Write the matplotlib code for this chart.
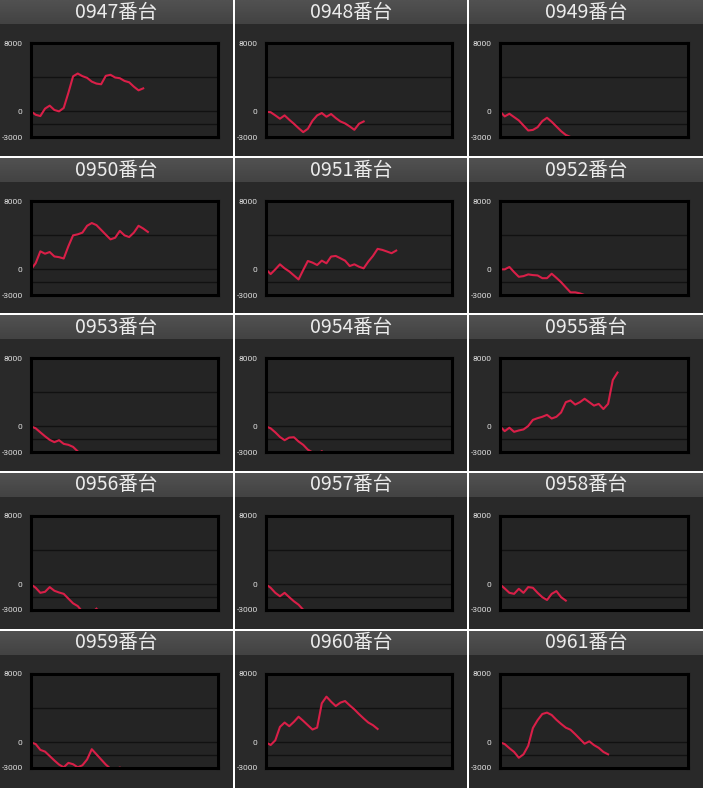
import numpy as np
import matplotlib
matplotlib.use("Agg")
import matplotlib.pyplot as plt
from matplotlib.colors import LinearSegmentedColormap

plt.rcParams['font.family'] = ['Noto Sans CJK JP', 'DejaVu Sans']

# 台番号
machines = ["0947", "0948", "0949", "0950", "0951", "0952", "0953", "0954",
            "0955", "0956", "0957", "0958", "0959", "0960", "0961"]

# 差枚推移 (等間隔のサンプル)
s0947 = [0, -400, -550, 320, 670, 160, 0, 400, 2180, 4100, 4430, 4120, 3920, 3480,
         3250, 3170, 4160, 4280, 3960, 3880, 3560, 3400, 2890, 2460, 2690]
s0948 = [-50, -100, -470, -860, -470, -980, -1450, -1960, -2430, -2040, -1100, -470,
         -200, -630, -310, -780, -1180, -1410, -1760, -2160, -1450, -1180]
s0949 = [0, -590, -280, -670, -1060, -1650, -2240, -2170, -1850, -1140, -750, -1220,
         -1770, -2320, -2760, -3000]
s0950 = [0, 720, 2110, 1830, 2030, 1510, 1430, 1270, 2710, 3980, 4100, 4300, 5100,
         5420, 5180, 4620, 4060, 3510, 3700, 4500, 3980, 3780, 4300, 5100, 4780, 4380]
s0951 = [0, -550, 0, 590, 120, -240, -710, -1180, -80, 980, 790, 510, 1020, 710, 1500,
         1570, 1300, 1020, 390, 590, 310, 120, 910, 1570, 2400, 2280, 2090, 1890, 2200]
s0952 = [0, 0, 280, -320, -870, -790, -590, -670, -710, -1030, -1030, -510, -990,
         -1500, -2100, -2690, -2690, -2810, -3010]
s0953 = [0, -230, -700, -1160, -1580, -1850, -1620, -2050, -2160, -2400, -2930]
s0954 = [0, -230, -700, -1240, -1620, -1310, -1270, -1770, -2160, -2730, -3050,
         -3400, -2900, -3400]
s0955 = [0, -560, -160, -640, -480, -360, 40, 760, 960, 1120, 1350, 920, 1120, 1630,
         2830, 3030, 2550, 2830, 3230, 2830, 2430, 2630, 2030, 2630, 5420, 6300]
s0956 = [0, -400, -990, -870, -320, -750, -950, -1110, -1670, -2220, -2540, -3200,
         -3600, -3300, -2850]
s0957 = [0, -400, -990, -1390, -990, -1500, -1980, -2380, -2970, -3100]
s0958 = [0, -480, -990, -1110, -520, -990, -320, -400, -990, -1500, -1830, -1110,
         -790, -1500, -1900]
s0959 = [0, -200, -880, -1080, -1600, -2120, -2600, -2920, -2400, -2560, -2920, -2680,
         -2000, -800, -1400, -2000, -2600, -3080, -3150, -2950, -3150]
s0960 = [0, -310, 240, 1810, 2320, 1890, 2400, 3000, 2520, 2010, 1500, 1730, 4570,
         5350, 4760, 4250, 4650, 4840, 4330, 3860, 3310, 2800, 2320, 2010, 1570]
s0961 = [0, -200, -680, -1120, -1800, -1400, -400, 1680, 2600, 3320, 3480, 3200, 2640,
         2160, 1720, 1480, 960, 400, -160, 120, -320, -640, -1120, -1400]

series = [s0947, s0948, s0949, s0950, s0951, s0952, s0953, s0954,
          s0955, s0956, s0957, s0958, s0959, s0960, s0961]

y_ticks = [8000, 0, -3000]
grid_vals = [4000, 0, -1500]

# レイアウト (ピクセル)
W, H = 703, 788
col_left = [0, 235, 469]
col_w = [233, 232, 234]
row_top = [0, 158, 315, 473, 631]
row_h = [156, 155, 156, 156, 157]
header_h = 24

fig = plt.figure(figsize=(W / 100, H / 100), dpi=100, facecolor="white")

def frac(x, y, w, h):
    return [x / W, 1 - (y + h) / H, w / W, h / H]

hdr_cmap = LinearSegmentedColormap.from_list("hdr", ["#434343", "#515151"])

for i, (name, vals) in enumerate(zip(machines, series)):
    r, c = divmod(i, 3)
    x0, y0, w, h = col_left[c], row_top[r], col_w[c], row_h[r]

    # パネル背景
    bg = fig.add_axes(frac(x0, y0, w, h))
    bg.set_facecolor("#292929")
    bg.set_xticks([])
    bg.set_yticks([])
    for s in bg.spines.values():
        s.set_visible(False)

    # ヘッダー
    hd = fig.add_axes(frac(x0, y0, w, header_h))
    hd.imshow(np.linspace(0, 1, 20).reshape(-1, 1), aspect="auto", cmap=hdr_cmap,
              extent=[0, 1, 0, 1], origin="lower")
    hd.set_axis_off()
    hd.text(0.5, 0.5, f"{name}番台", color="#ececec", fontsize=14,
            ha="center", va="center", transform=hd.transAxes)

    # グラフ
    ax = fig.add_axes(frac(x0 + 31, y0 + 43, w - 46, 94))
    ax.set_facecolor("#242424")
    for g in grid_vals:
        ax.axhline(g, color="#111111", lw=1.0, zorder=1)
    ax.plot(range(len(vals)), vals, color="#d91f48", lw=1.5, zorder=2)
    ax.set_xlim(0, 40)
    ax.set_ylim(-3000, 8000)
    ax.set_xticks([])
    ax.set_yticks(y_ticks)
    ax.set_yticklabels([str(t) for t in y_ticks], fontsize=6, color="#e0e0e0",
                       family=["Roboto", "DejaVu Sans"])
    ax.tick_params(axis="y", length=0, pad=6)
    for s in ax.spines.values():
        s.set_color("black")
        s.set_linewidth(2.2)

fig.savefig("out.png", dpi=100, facecolor="white")
